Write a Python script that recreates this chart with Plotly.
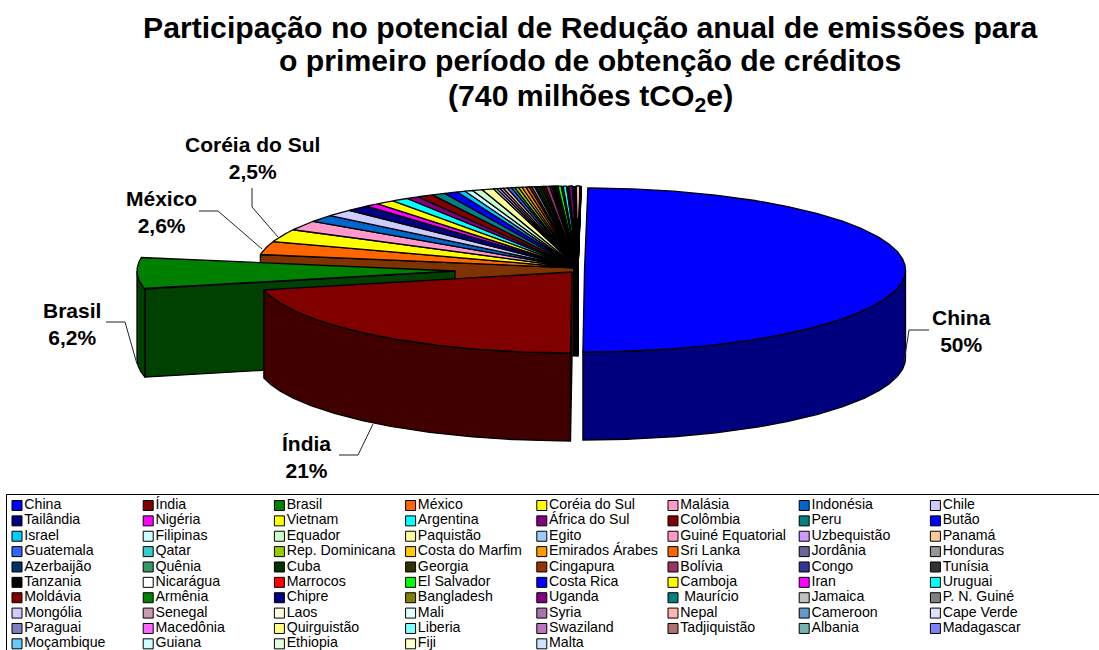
import math
import plotly.graph_objects as go

countries = ["China","Índia","Brasil","México","Coréia do Sul","Malásia","Indonésia","Chile",
 "Tailândia","Nigéria","Vietnam","Argentina","África do Sul","Colômbia","Peru","Butão",
 "Israel","Filipinas","Equador","Paquistão","Egito","Guiné Equatorial","Uzbequistão","Panamá",
 "Guatemala","Qatar","Rep. Dominicana","Costa do Marfim","Emirados Árabes","Sri Lanka","Jordânia","Honduras",
 "Azerbaijão","Quênia","Cuba","Georgia","Cingapura","Bolívia","Congo","Tunísia",
 "Tanzania","Nicarágua","Marrocos","El Salvador","Costa Rica","Camboja","Iran","Uruguai",
 "Moldávia","Armênia","Chipre","Bangladesh","Uganda"," Maurício","Jamaica","P. N. Guiné",
 "Mongólia","Senegal","Laos","Mali","Syria","Nepal","Cameroon","Cape Verde",
 "Paraguai","Macedônia","Quirguistão","Liberia","Swaziland","Tadjiquistão","Albania","Madagascar",
 "Moçambique","Guiana","Ethiopia","Fiji","Malta"]

shares = [50,21.4,6.2,2.6,2.5,1.9,1.4,1.4,
 1.2,.7,.95,.83,.64,.8,.69,.67,
 .42,.39,.5,.58,.17,.17,.17,.2,
 .22,.15,.2,.17,.2,.17,.12,.15,
 .1,.1,.15,.1,.1,.2,.1,.08,
 .1,.06,.06,.17,.03,.03,.03,.17,
 .03,.03,.03,.03,.17,.03,.03,.03,
 .02,.02,.02,.02,.02,.18,.005,.005,
 .005,.005,.005,.005,.005,.005,.005,.005,
 .005,.005,.005,.005,.005]

colors = ["#0000FF","#800000","#008000","#FF6600","#FFFF00","#FF99CC","#0066CC","#CCCCFF",
 "#000080","#FF00FF","#FFFF00","#00FFFF","#800080","#800000","#008080","#0000FF",
 "#00CCFF","#CCFFFF","#CCFFCC","#FFFF99","#99CCFF","#FF99CC","#CC99FF","#FFCC99",
 "#3366FF","#33CCCC","#99CC00","#FFCC00","#FF9900","#FF6600","#666699","#969696",
 "#003366","#339966","#003300","#333300","#993300","#993366","#333399","#333333",
 "#000000","#FFFFFF","#FF0000","#00FF00","#0000FF","#FFFF00","#FF00FF","#00FFFF",
 "#800000","#008000","#000080","#808000","#800080","#008080","#C0C0C0","#808080",
 "#CCCCFF","#CC99B3","#FFFFE0","#E0FFFF","#A973A9","#FFB3B3","#6699CC","#E0E0FF",
 "#7F7FBF","#FF66FF","#FFFF80","#80FFFF","#BF73BF","#B36F6F","#73B3B3","#8080FF",
 "#66CCFF","#CCFFFF","#E0FFE0","#FFFFCC","#CCE5FF"]

title_lines = [("Participação no potencial de Redução anual de emissões para",27),
               ("o primeiro período de obtenção de créditos",60),
               ("(740 milhões tCO<sub>2</sub>e)",97)]
callouts = [("China<br>50%",961,331),("Índia<br>21%",306,457),("Brasil<br>6,2%",72,324),
            ("México<br>2,6%",161,212),("Coréia do Sul<br>2,5%",252,158)]
leaders = [[(929,330),(909,330),(904,362)],[(339,455),(358,455),(373,424)],
           [(106,322),(125,322),(137,364)],[(199,211),(218,211),(262,249)],
           [(252,188),(252,207),(278,237)]]

ROT, DEPTH = 0.6, 88
total = sum(shares)
# ellipse geometry of each exploded group: cx, cy, a, b
PIE_REST = (578,268,322,82); PIE_CHINA = (584.5,270,321,82)
PIE_INDIA = (572,272,316,81); PIE_BRASIL = (455,271,318,82)

def pt(g, th, dz=0):
    t = math.radians(th)
    return g[0]+g[2]*math.sin(t), g[1]-g[3]*math.cos(t)+dz

def arc(g, a0, a1, dz=0):
    n = max(2, int(abs(a1-a0)/0.5)+2)
    return [pt(g, a0+(a1-a0)*i/(n-1), dz) for i in range(n)]

def dark(c):
    return "#%02X%02X%02X" % tuple(int(c[i:i+2],16)//2 for i in (1,3,5))

fig = go.Figure()
def poly(pts, fill, name):
    fig.add_trace(go.Scatter(x=[p[0] for p in pts], y=[p[1] for p in pts], mode="lines",
        fill="toself", fillcolor=fill, line=dict(color="black", width=1.3),
        name=name, hoverinfo="name", showlegend=False))

def radial(g, th, fill, name):
    o, c = pt(g, th), (g[0], g[1])
    poly([o, c, (c[0], c[1]+DEPTH), (o[0], o[1]+DEPTH), o], fill, name)

def wall(g, a0, a1, fill, name):
    lo, hi = max(a0, 90), min(a1, 270)
    if hi > lo:
        poly(arc(g, lo, hi) + arc(g, hi, lo, DEPTH) + [pt(g, lo)], fill, name)

def top(g, a0, a1, fill, name):
    poly([(g[0], g[1])] + arc(g, a0, a1) + [(g[0], g[1])], fill, name)

angles = [ROT]
for v in shares:
    angles.append(angles[-1] + 360*v/total)

# undisplaced slices, back to front
radial(PIE_REST, angles[3], dark(colors[3]), countries[3])
for i in range(3, len(shares)):
    top(PIE_REST, angles[i], angles[i+1], colors[i], countries[i])
# inner wall where the small slices end
fig.add_trace(go.Scatter(x=[PIE_REST[0]-2]*2, y=[PIE_REST[1]-50, PIE_REST[1]+DEPTH], mode="lines",
    line=dict(color="black", width=6), hoverinfo="skip", showlegend=False))
# Brasil
radial(PIE_BRASIL, angles[2], dark(colors[2]), countries[2])
wall(PIE_BRASIL, angles[2], angles[3], dark(colors[2]), countries[2])
top(PIE_BRASIL, angles[2], angles[3], colors[2], countries[2])
# Índia
radial(PIE_INDIA, angles[1], dark(colors[1]), countries[1])
wall(PIE_INDIA, angles[1], angles[2], dark(colors[1]), countries[1])
top(PIE_INDIA, angles[1], angles[2], colors[1], countries[1])
# China
wall(PIE_CHINA, angles[0], angles[1], dark(colors[0]), countries[0])
top(PIE_CHINA, angles[0], angles[1], colors[0], countries[0])

for pts in leaders:
    fig.add_trace(go.Scatter(x=[p[0] for p in pts], y=[p[1] for p in pts], mode="lines",
        line=dict(color="#222222", width=1), hoverinfo="skip", showlegend=False))

# legend grid
COLS = 8; COL0 = 17; COLW = 131.2; ROW0 = 505.5; ROWH = 15.37
fig.add_trace(go.Scatter(
    x=[COL0+COLW*(i % COLS) for i in range(len(countries))],
    y=[ROW0+ROWH*(i//COLS) for i in range(len(countries))],
    mode="markers+text", text=countries, textposition="middle right",
    textfont=dict(family="Liberation Sans", size=14.2, color="black"),
    marker=dict(symbol="square", size=10, color=colors, line=dict(color="black", width=1)),
    hoverinfo="text", showlegend=False))

for txt, x, y in callouts:
    fig.add_annotation(x=x, y=y, text="<b>"+txt+"</b>", showarrow=False, xanchor="center", yanchor="middle",
        font=dict(family="Liberation Sans", size=21, color="black"), align="center")
for txt, y in title_lines:
    fig.add_annotation(x=590, y=y, text="<b>"+txt+"</b>", showarrow=False, xanchor="center", yanchor="middle",
        font=dict(family="Liberation Sans", size=30.2, color="black"))

fig.update_layout(
    width=1099, height=650, margin=dict(l=0,r=0,t=0,b=0), showlegend=False,
    paper_bgcolor="white", plot_bgcolor="white",
    xaxis=dict(range=[0,1099], visible=False, fixedrange=True),
    yaxis=dict(range=[650,0], visible=False, fixedrange=True),
    shapes=[dict(type="rect", x0=6.5, y0=494.5, x1=1120, y1=670, line=dict(color="black", width=1), layer="below")],
)
fig.write_html("out.html", config=dict(displayModeBar=False),
               post_script="document.body.style.margin='0';document.body.style.overflow='hidden';")
